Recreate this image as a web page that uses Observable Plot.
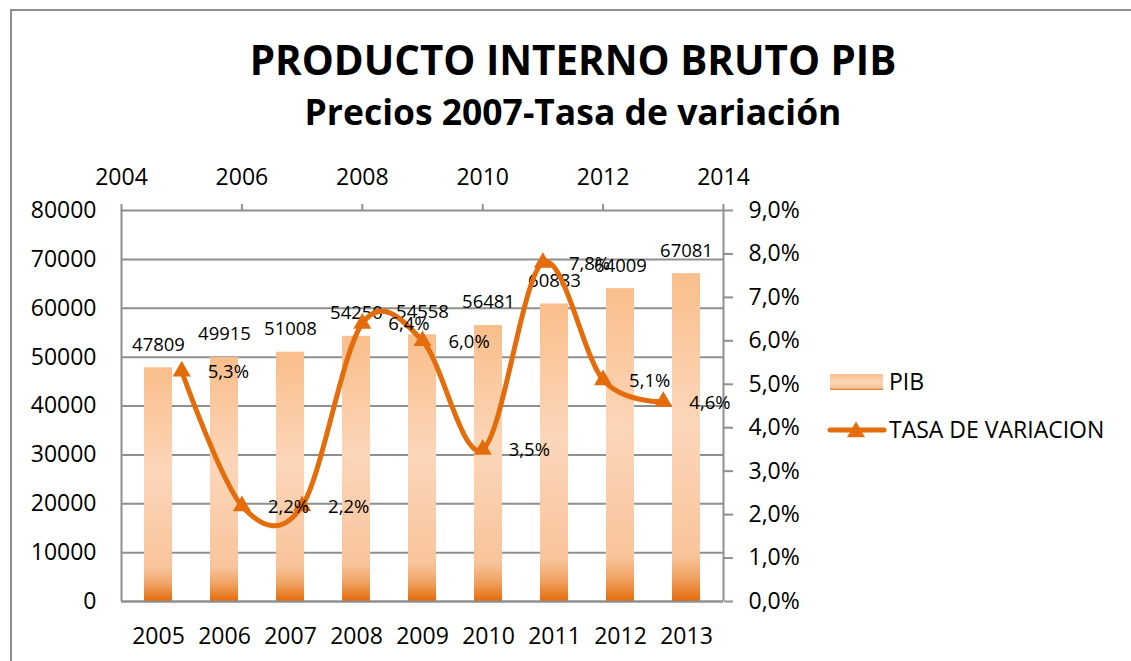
<!DOCTYPE html>
<html><head><meta charset="utf-8">
<script src="https://cdn.jsdelivr.net/npm/d3@7"></script>
<script src="https://cdn.jsdelivr.net/npm/@observablehq/plot@0.6"></script>
<style>
html,body{margin:0;padding:0;background:#fff;}
#root{position:relative;width:1131px;height:661px;overflow:hidden;font-family:"Open Sans",sans-serif;}
#border{position:absolute;left:10px;top:9px;width:1200px;height:700px;border-left:2px solid #8e8e8e;border-top:2px solid #8e8e8e;}
.layer{position:absolute;left:0;top:140px;}
#overlay{position:absolute;left:0;top:0;}
</style></head><body>
<div id="root">
<div id="border"></div>
<div id="p1" class="layer"></div>
<div id="p2" class="layer"></div>
<svg id="overlay" width="1131" height="661" font-family="Open Sans, sans-serif">
  <defs>
    <linearGradient id="legGrad" x1="0" y1="0" x2="0" y2="1">
      <stop offset="0" stop-color="#F9BE8B"/>
      <stop offset="0.5" stop-color="#FCD6B9"/>
      <stop offset="0.85" stop-color="#F8C39A"/>
      <stop offset="1" stop-color="#E8782A"/>
    </linearGradient>
  </defs>
  <text id="t1" x="573" y="75" text-anchor="middle" font-weight="700" font-size="40" fill="#000">PRODUCTO INTERNO BRUTO PIB</text>
  <text id="t2" x="573" y="125" text-anchor="middle" font-weight="700" font-size="34" fill="#000">Precios 2007-Tasa de variación</text>
  <rect x="830" y="374" width="53" height="16" fill="url(#legGrad)"/>
  <text x="889" y="389.5" font-size="23" fill="#000">PIB</text>
  <line x1="830" x2="884" y1="430" y2="430" stroke="#E46C0A" stroke-width="5" stroke-linecap="round"/>
  <path id="legTri" fill="#E46C0A"/>
  <text x="889" y="438" font-size="23" fill="#000">TASA DE VARIACION</text>
</svg>
</div>
<script>
// ---- data ----
const years = [2005, 2006, 2007, 2008, 2009, 2010, 2011, 2012, 2013];
const pib = [47809, 49915, 51008, 54250, 54558, 56481, 60883, 64009, 67081];
const tasa = [0.053, 0.022, 0.022, 0.064, 0.060, 0.035, 0.078, 0.051, 0.046];
const leftTicks = [0, 10000, 20000, 30000, 40000, 50000, 60000, 70000, 80000];
const rightTicks = [0, 0.01, 0.02, 0.03, 0.04, 0.05, 0.06, 0.07, 0.08, 0.09];
const topTicks = [2004, 2006, 2008, 2010, 2012, 2014];

const data = years.map((y, i) => ({year: y, cat: String(y), pib: pib[i], tasa: tasa[i]}));
const pct = d => (d * 100).toFixed(1).replace(".", ",") + "%";

const ORANGE = "#E46C0A";
const GRID = "#8f8f8f";
const common = {
  width: 1131, height: 521,
  marginLeft: 121, marginRight: 408, marginTop: 70, marginBottom: 60,
  style: {fontFamily: "Open Sans, sans-serif", fontSize: "23px", color: "#000", background: "transparent", overflow: "visible"}
};

// ---- plot 1: bars (band x, left y) ----
const plot1 = Plot.plot({
  ...common,
  x: {type: "band", domain: years.map(String), paddingInner: 0.58, paddingOuter: 0.29},
  y: {domain: [0, 80000]},
  marks: [
    Plot.gridY(leftTicks, {stroke: GRID, strokeOpacity: 1, strokeWidth: 2}),
    Plot.barY(data, {x: "cat", y: "pib", fill: "url(#pibGrad)"}),
    Plot.text(data, {x: "cat", y: "pib", text: d => String(d.pib), dy: -23, fontSize: 18.5, fill: "#000"}),
    Plot.axisY({ticks: leftTicks, tickSize: 0, tickPadding: 25, tickFormat: d => String(d), label: null, fontSize: 23}),
    Plot.axisX({tickSize: 0, tickPadding: 26, label: null, fontSize: 23})
  ]
});
const defs = d3.select(plot1).insert("defs", ":first-child");
const g = defs.append("linearGradient").attr("id", "pibGrad").attr("x1", 0).attr("y1", 0).attr("x2", 0).attr("y2", 1);
[[0, "#F9BE8B"], [0.45, "#FCD6B9"], [0.86, "#F8C49B"], [0.93, "#F0A262"], [1, "#E46C0A"]]
  .forEach(([o, c]) => g.append("stop").attr("offset", o).attr("stop-color", c));
document.getElementById("p1").appendChild(plot1);

// ---- plot 2: line (linear top x, right y) ----
const plot2 = Plot.plot({
  ...common,
  x: {type: "linear", domain: [2004, 2014]},
  y: {domain: [0, 0.09]},
  marks: [
    Plot.ruleX([2004, 2014], {y1: 0, y2: 0.09, stroke: GRID, strokeWidth: 2}),
    Plot.ruleY([0], {x1: 2004, x2: 2014, stroke: GRID, strokeWidth: 2}),
    Plot.axisX({anchor: "top", ticks: topTicks, tickSize: 7, tickPadding: 19, tickFormat: d => String(d), label: null, stroke: GRID, strokeWidth: 2, fontSize: 23}),
    Plot.axisY({anchor: "right", ticks: rightTicks, tickSize: 9, tickPadding: 16, tickFormat: pct, label: null, stroke: GRID, strokeWidth: 2, fontSize: 23}),
    Plot.line(data, {x: "year", y: "tasa", curve: "cardinal", tension: 0, stroke: ORANGE, strokeWidth: 5}),
    Plot.dot(data, {x: "year", y: "tasa", symbol: "triangle", r: 6.7, fill: ORANGE, stroke: "none"}),
    Plot.text(data, {x: "year", y: "tasa", text: d => pct(d.tasa), textAnchor: "start", dx: 26, dy: 1, fontSize: 18.5, fill: "#000"})
  ]
});
document.getElementById("p2").appendChild(plot2);

// legend triangle
document.getElementById("legTri").setAttribute("d", d3.symbol(d3.symbolTriangle, Math.PI * 6.7 * 6.7)());
document.getElementById("legTri").setAttribute("transform", "translate(856,432)");

// fit title widths
function fit(id, target) {
  const el = document.getElementById(id);
  const fs = parseFloat(el.getAttribute("font-size"));
  const w = el.getComputedTextLength();
  el.setAttribute("font-size", (fs * target / w).toFixed(2));
}
fit("t1", 647);
fit("t2", 537);
</script>
</body></html>
